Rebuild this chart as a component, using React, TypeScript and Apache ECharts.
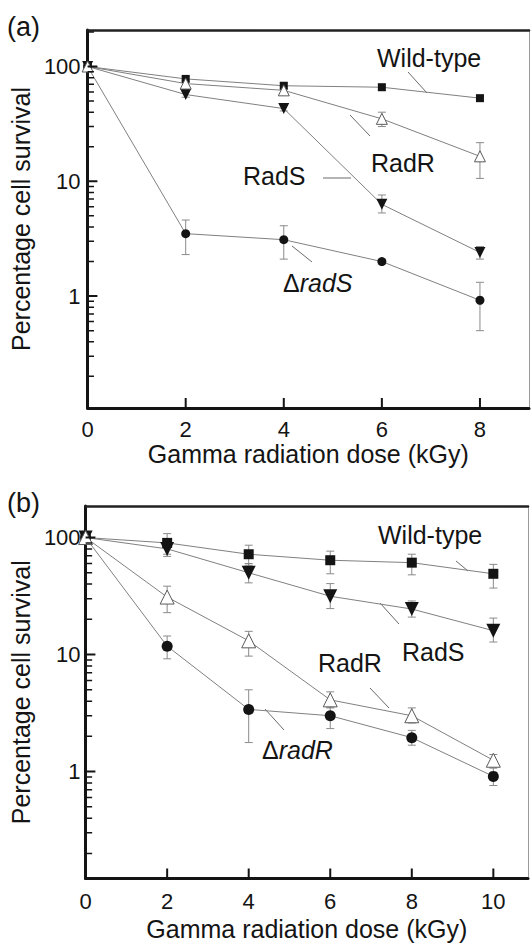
import React, { useEffect, useRef } from 'react';
import * as echarts from 'echarts';

// ---------- Panel (a) data ----------
const doseA = [0, 2, 4, 6, 8];
const wildTypeA = [100, 78, 68, 66, 53];
const radRA = [100, 71, 62, 35, 16.5];
const radSA = [100, 57, 43, 6.3, 2.4];
const deltaRadSA = [100, 3.5, 3.1, 2.0, 0.92];
const wildTypeALow = [null, 74, 64, 62, 50];
const wildTypeAHigh = [null, 82, 72, 70, 56];
const radRALow = [null, 66, 58, 30, 10.6];
const radRAHigh = [null, 76, 67, 40, 21.7];
const radSALow = [null, 54, 41, 5.3, 2.1];
const radSAHigh = [null, 61, 46, 7.6, 2.7];
const deltaRadSALow = [null, 2.3, 2.1, 1.9, 0.5];
const deltaRadSAHigh = [null, 4.6, 4.1, 2.1, 1.32];

// ---------- Panel (b) data ----------
const doseB = [0, 2, 4, 6, 8, 10];
const wildTypeB = [100, 90, 72, 64, 61, 49];
const radSB = [100, 80, 50, 31.5, 24.5, 16];
const radRB = [100, 31, 13.1, 4.1, 3.0, 1.25];
const deltaRadRB = [100, 11.8, 3.4, 3.0, 1.95, 0.91];
const wildTypeBLow = [null, 72, 58, 49, 48, 37];
const wildTypeBHigh = [null, 108, 86, 76.5, 72, 59];
const radSBLow = [null, 69, 41, 24.7, 20.9, 12.8];
const radSBHigh = [null, 92, 60, 40.4, 28.7, 20.5];
const radRBLow = [null, 22.8, 9.7, 3.5, 2.6, 1.1];
const radRBHigh = [null, 38.4, 15.8, 4.8, 3.5, 1.4];
const deltaRadRBLow = [null, 9.2, 1.77, 2.33, 1.68, 0.76];
const deltaRadRBHigh = [null, 14.4, 5.0, 3.57, 2.25, 1.07];

// ---------- Axis ticks ----------
const xTicksA = [0, 2, 4, 6, 8];
const xTicksB = [0, 2, 4, 6, 8, 10];
const yMajorTicks = [1, 10, 100];
const yMinorTicks = [0.2, 0.3, 0.4, 0.5, 0.6, 0.7, 0.8, 0.9, 2, 3, 4, 5, 6, 7, 8, 9, 20, 30, 40, 50, 60, 70, 80, 90, 200];

const FONT = '"Liberation Sans", Arial, Helvetica, sans-serif';
const INK = '#141414';
const LINE = '#808080';

const pts = (xs: number[], ys: number[]) => xs.map((x, i) => [x, ys[i]]);
const errs = (xs: number[], lo: (number | null)[], hi: (number | null)[]) =>
  xs.map((x, i) => (lo[i] == null ? null : [x, lo[i], hi[i]])).filter((d) => d !== null);

export default function App() {
  const ref = useRef<HTMLDivElement>(null);

  useEffect(() => {
    document.body.style.margin = '0';
    const chart = echarts.init(ref.current!, null, { renderer: 'svg' });

    const bottomX = (gridIndex: number, max: number, ticks: number[], margin: number, nameGap: number) => ({
      gridIndex,
      type: 'value',
      min: 0,
      max,
      position: 'bottom',
      axisLine: { onZero: false, lineStyle: { color: INK, width: 3 } },
      axisTick: { show: false },
      axisLabel: { customValues: ticks, margin, fontSize: 22, color: INK, fontFamily: FONT },
      splitLine: { show: false },
      name: 'Gamma radiation dose (kGy)',
      nameLocation: 'middle',
      nameGap,
      nameTextStyle: { fontSize: 25, color: INK, fontFamily: FONT },
    });
    const topX = (gridIndex: number) => ({
      gridIndex,
      type: 'value',
      min: 0,
      max: 1,
      position: 'top',
      axisLine: { onZero: false, lineStyle: { color: '#222', width: 2.5 } },
      axisTick: { show: false },
      axisLabel: { show: false },
      splitLine: { show: false },
    });
    const leftY = (gridIndex: number, min: number, max: number, margin: number, nameGap: number) => ({
      gridIndex,
      type: 'log',
      logBase: 10,
      min,
      max,
      position: 'left',
      axisLine: { onZero: false, lineStyle: { color: INK, width: 3 } },
      axisTick: { show: false },
      axisLabel: { customValues: yMajorTicks, margin, fontSize: 22, color: INK, fontFamily: FONT },
      splitLine: { show: false },
      name: 'Percentage cell survival',
      nameLocation: 'middle',
      nameGap,
      nameRotate: 90,
      nameTextStyle: { fontSize: 25, color: INK, fontFamily: FONT },
    });
    const rightY = (gridIndex: number) => ({
      gridIndex,
      type: 'value',
      min: 0,
      max: 1,
      position: 'right',
      axisLine: { show: true, onZero: false, lineStyle: { color: '#9a9a9a', width: 1 } },
      axisTick: { show: false },
      axisLabel: { show: false },
      splitLine: { show: false },
    });

    // Tick marks as broken line series, in data units of each axis.
    // yLenMajor/yLenMinor: tick length along x (dose units); xFactor: tick length along the log y axis (ratio)
    const tickLines = (
      xi: number,
      yi: number,
      yMin: number,
      yMax: number,
      xTicks: number[],
      yLenMajor: number,
      yLenMinor: number,
      xFactor: number
    ) => {
      const xData: any[] = [];
      xTicks
        .filter((v) => v > 0)
        .forEach((v) => {
          xData.push([v, yMin], [v, yMin * xFactor], '-');
        });
      const majorData: any[] = [];
      yMajorTicks.forEach((v) => {
        majorData.push([0, v], [yLenMajor, v], '-');
      });
      const minorData: any[] = [];
      yMinorTicks
        .filter((v) => v > yMin && v < yMax)
        .forEach((v) => {
          minorData.push([0, v], [yLenMinor, v], '-');
        });
      const base = {
        type: 'line',
        xAxisIndex: xi,
        yAxisIndex: yi,
        symbol: 'none',
        silent: true,
        connectNulls: false,
        clip: false,
        z: 8,
      };
      return [
        { ...base, data: xData, lineStyle: { color: INK, width: 2 } },
        { ...base, data: majorData, lineStyle: { color: INK, width: 2 } },
        { ...base, data: minorData, lineStyle: { color: INK, width: 1.5 } },
      ];
    };

    const lineSeries = (
      name: string,
      xi: number,
      yi: number,
      data: number[][],
      symbol: string,
      size: number,
      open = false,
      rotate = 0
    ) => ({
      name,
      type: 'line',
      xAxisIndex: xi,
      yAxisIndex: yi,
      data,
      symbol,
      symbolSize: size,
      symbolRotate: rotate,
      showAllSymbol: true,
      clip: false,
      z: 3,
      lineStyle: { color: LINE, width: 1 },
      itemStyle: open
        ? { color: '#ffffff', borderColor: '#5a5a5a', borderWidth: 1 }
        : { color: INK, borderColor: INK, borderWidth: 0 },
    });

    const errorSeries = (xi: number, yi: number, data: any[]) => ({
      type: 'custom',
      xAxisIndex: xi,
      yAxisIndex: yi,
      data,
      z: 2,
      encode: { x: 0, y: [1, 2] },
      renderItem: (_params: any, api: any) => {
        const x = api.value(0);
        const top = api.coord([x, api.value(2)]);
        const bot = api.coord([x, api.value(1)]);
        const w = 4;
        const style = { stroke: '#8a8a8a', lineWidth: 1 };
        return {
          type: 'group',
          children: [
            { type: 'line', shape: { x1: top[0], y1: top[1], x2: bot[0], y2: bot[1] }, style },
            { type: 'line', shape: { x1: top[0] - w, y1: top[1], x2: top[0] + w, y2: top[1] }, style },
            { type: 'line', shape: { x1: bot[0] - w, y1: bot[1], x2: bot[0] + w, y2: bot[1] }, style },
          ],
        };
      },
    });

    const txt = (text: string, x: number, y: number, size = 25, extra: any = {}) => ({
      type: 'text',
      x,
      y,
      style: { text, fill: INK, fontSize: size, fontFamily: FONT, align: 'left', verticalAlign: 'middle', ...extra },
    });
    const lead = (x1: number, y1: number, x2: number, y2: number) => ({
      type: 'line',
      shape: { x1, y1, x2, y2 },
      style: { stroke: '#6a6a6a', lineWidth: 1 },
    });
    const deltaText = (body: string, x: number, y: number) =>
      txt(`{d|Δ}{i|${body}}`, x, y, 25, {
        rich: {
          d: { fontSize: 25, fontFamily: FONT, fill: INK, fontStyle: 'normal' },
          i: { fontSize: 25, fontFamily: FONT, fill: INK, fontStyle: 'italic' },
        },
      });

    chart.setOption({
      animation: false,
      backgroundColor: '#ffffff',
      grid: [
        { left: 86, top: 30, width: 443, height: 378 },
        { left: 81.5, top: 506, width: 446.5, height: 372.5 },
      ],
      xAxis: [bottomX(0, 9, xTicksA, 10, 33), topX(0), bottomX(1, 10.85, xTicksB, 12, 38), topX(1)],
      yAxis: [
        leftY(0, 0.106, 208, 7, 39),
        rightY(0),
        leftY(1, 0.122, 186, 5, 35),
        rightY(1),
      ],
      series: [
        errorSeries(0, 0, errs(doseA, wildTypeALow, wildTypeAHigh)),
        errorSeries(0, 0, errs(doseA, radRALow, radRAHigh)),
        errorSeries(0, 0, errs(doseA, radSALow, radSAHigh)),
        errorSeries(0, 0, errs(doseA, deltaRadSALow, deltaRadSAHigh)),
        lineSeries('Wild-type', 0, 0, pts(doseA, wildTypeA), 'rect', 8),
        lineSeries('ΔradS', 0, 0, pts(doseA, deltaRadSA), 'circle', 9),
        lineSeries('RadS', 0, 0, pts(doseA, radSA), 'triangle', 11, false, 180),
        lineSeries('RadR', 0, 0, pts(doseA, radRA), 'triangle', 11, true),
        ...tickLines(0, 0, 0.106, 208, xTicksA, 0.2, 0.13, 1.222),

        errorSeries(2, 2, errs(doseB, wildTypeBLow, wildTypeBHigh)),
        errorSeries(2, 2, errs(doseB, radSBLow, radSBHigh)),
        errorSeries(2, 2, errs(doseB, radRBLow, radRBHigh)),
        errorSeries(2, 2, errs(doseB, deltaRadRBLow, deltaRadRBHigh)),
        lineSeries('Wild-type', 2, 2, pts(doseB, wildTypeB), 'rect', 10),
        lineSeries('ΔradR', 2, 2, pts(doseB, deltaRadRB), 'circle', 11),
        lineSeries('RadS', 2, 2, pts(doseB, radSB), 'triangle', 14, false, 180),
        lineSeries('RadR', 2, 2, pts(doseB, radRB), 'triangle', 14, true),
        ...tickLines(2, 2, 0.122, 186, xTicksB, 0.24, 0.16, 1.218),
      ],
      graphic: [
        txt('(a)', 7, 27, 27),
        txt('(b)', 7, 503, 27),
        // panel (a) annotations
        txt('Wild-type', 377, 58),
        lead(408, 72, 427, 93),
        txt('RadR', 371, 163),
        lead(350, 115, 370, 136),
        txt('RadS', 243, 176),
        lead(323, 178, 351, 178),
        deltaText('radS', 283, 283),
        lead(292, 246, 312, 262),
        // panel (b) annotations
        txt('Wild-type', 378, 535),
        lead(456, 561, 468, 571),
        txt('RadS', 402, 652),
        lead(380, 603, 399, 624),
        txt('RadR', 318, 663),
        lead(370, 688, 389, 708),
        deltaText('radR', 262, 750),
        lead(265, 709, 284, 730),
      ],
    });

    return () => chart.dispose();
  }, []);

  return <div ref={ref} style={{ width: 531, height: 943 }} />;
}
